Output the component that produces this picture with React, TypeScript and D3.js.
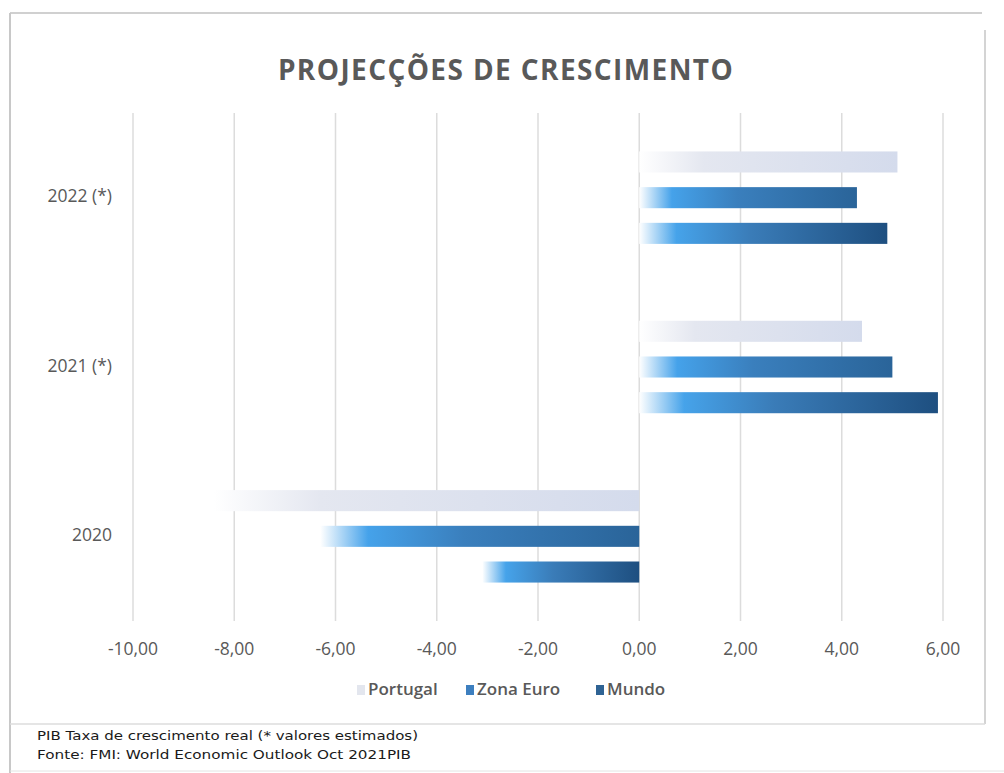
import React from "react";
import * as d3 from "d3";

const categories = ["2022 (*)", "2021 (*)", "2020"];
const seriesNames = ["Portugal", "Zona Euro", "Mundo"];
const portugal = [5.1, 4.4, -8.4];
const zonaEuro = [4.3, 5.0, -6.3];
const mundo = [4.9, 5.9, -3.1];
const xTicks = [-10, -8, -6, -4, -2, 0, 2, 4, 6];
const title = "PROJECÇÕES DE CRESCIMENTO";
const footer1 = "PIB Taxa de crescimento real (* valores estimados)";
const footer2 = "Fonte: FMI: World Economic Outlook Oct 2021PIB";

const W = 1004;
const H = 773;
const plot = { left: 133, right: 943, top: 113, bottom: 621 };
const textColor = "#595959";
const font = "'Open Sans', sans-serif";

const gradients = [
  { id: "g-pt", stops: [["0%", "#ffffff"], ["25%", "#e4e7f0"], ["100%", "#d4dbec"]] },
  { id: "g-ze", stops: [["0%", "#ffffff"], ["15%", "#45a2ea"], ["45%", "#3a7fbd"], ["100%", "#2a6499"]] },
  { id: "g-mu", stops: [["0%", "#ffffff"], ["15%", "#46a3ea"], ["45%", "#3a7cb8"], ["100%", "#1e4f80"]] },
];
const legendSwatch = ["#e3e6ee", "#3d7fbf", "#2f6394"];

export default function App() {
  const x = d3.scaleLinear().domain([-10, 6]).range([plot.left, plot.right]);
  const y0 = d3.scaleBand<string>().domain(categories).range([plot.top, plot.bottom]).padding(0);
  const bw = y0.bandwidth();
  const y1 = d3
    .scaleBand<string>()
    .domain(seriesNames)
    .range([bw * 0.227, bw * 0.773])
    .paddingInner(0.41)
    .paddingOuter(0);
  const values = [portugal, zonaEuro, mundo];

  const legendX = [357, 466, 596];

  return (
    <svg width={W} height={H} style={{ position: "absolute", left: 0, top: 0, background: "#fff" }}>
      <defs>
        {gradients.map((g) => (
          <linearGradient key={g.id} id={g.id} x1="0" y1="0" x2="1" y2="0">
            {g.stops.map(([o, c]) => (
              <stop key={o} offset={o} stopColor={c} />
            ))}
          </linearGradient>
        ))}
      </defs>
      <rect x={0} y={0} width={W} height={H} fill="#fff" />
      {/* frame */}
      <line x1={10} y1={13} x2={982} y2={13} stroke="#d0d0d0" strokeWidth={2} />
      <line x1={10} y1={13} x2={10} y2={773} stroke="#c8c8c8" strokeWidth={2} />
      <line x1={985} y1={30} x2={985} y2={724} stroke="#d4d4d4" strokeWidth={2} />
      <line x1={10} y1={724} x2={985} y2={724} stroke="#dcdcdc" strokeWidth={1.5} />
      <line x1={10} y1={771} x2={1004} y2={771} stroke="#e4e4e4" strokeWidth={1} />

      <text x={506} y={80} textAnchor="middle" fontFamily={font} fontWeight={700} fontSize={28} fill={textColor} letterSpacing={1.4}>
        {title}
      </text>

      {/* gridlines */}
      {xTicks.map((t) => (
        <line key={t} x1={x(t)} x2={x(t)} y1={plot.top} y2={plot.bottom} stroke="#dcdcdc" strokeWidth={1.5} />
      ))}

      {/* bars */}
      {categories.map((c, ci) => (
        <g key={c} transform={`translate(0,${y0(c)})`}>
          {seriesNames.map((s, si) => {
            const v = values[si][ci];
            const x0 = x(Math.min(0, v));
            const x1 = x(Math.max(0, v));
            return (
              <rect
                key={s}
                x={x0}
                y={y1(s)}
                width={x1 - x0}
                height={y1.bandwidth()}
                fill={`url(#${gradients[si].id})`}
              />
            );
          })}
        </g>
      ))}

      {/* category labels */}
      {categories.map((c) => (
        <text
          key={c}
          x={112}
          y={(y0(c) as number) + bw / 2}
          textAnchor="end"
          dominantBaseline="middle"
          fontFamily={font}
          fontSize={17.5}
          fill={textColor}
        >
          {c}
        </text>
      ))}

      {/* x tick labels */}
      {xTicks.map((t) => (
        <text key={t} x={x(t)} y={650} textAnchor="middle" dominantBaseline="middle" fontFamily={font} fontSize={17.5} fill={textColor}>
          {d3.format(".2f")(t).replace(".", ",").replace("−", "-")}
        </text>
      ))}

      {/* legend */}
      {seriesNames.map((s, i) => (
        <g key={s} transform={`translate(${legendX[i]},690)`}>
          <rect x={0} y={-5} width={8} height={10} fill={legendSwatch[i]} />
          <text x={11} y={0} dominantBaseline="middle" fontFamily={font} fontWeight={600} fontSize={17} fill={textColor}>
            {s}
          </text>
        </g>
      ))}

      {/* footer */}
      <text x={37} y={740} fontFamily="'DejaVu Sans', sans-serif" fontSize={13} fill="#1a1a1a" textLength={381} lengthAdjust="spacingAndGlyphs">
        {footer1}
      </text>
      <text x={37} y={759} fontFamily="'DejaVu Sans', sans-serif" fontSize={13} fill="#1a1a1a" textLength={374} lengthAdjust="spacingAndGlyphs">
        {footer2}
      </text>
    </svg>
  );
}
